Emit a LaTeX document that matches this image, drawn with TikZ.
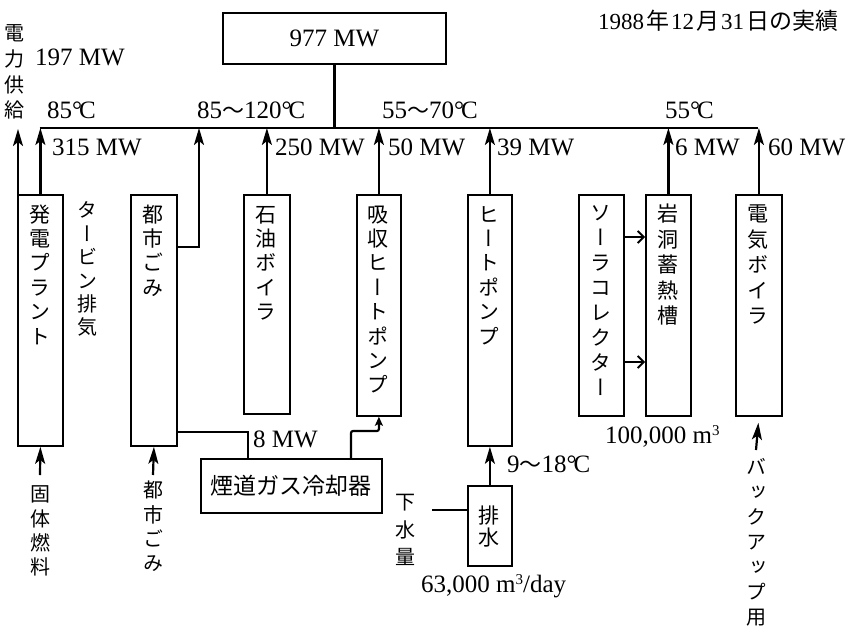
\documentclass[tikz,border=0pt]{standalone}
\usepackage{fontspec}
\setmainfont{Liberation Serif}
\newfontfamily\cjk{Noto Sans CJK JP}
\newfontfamily\cjkv[RawFeature=+vert]{Noto Sans CJK JP}
\usetikzlibrary{arrows.meta}
\newcommand\vch[1]{\hbox to 1em{\hss\vrule height 0.88em depth 0.12em width 0pt\relax #1\hss}}
\ExplSyntaxOn
\NewDocumentCommand\vstack{mm}{
  \vbox{
    \baselineskip=#1pt\relax
    \lineskiplimit=-1000pt\relax
    \lineskip=0pt\relax
    \tl_map_inline:nn {#2} { \vch{##1} }
  }
}
\ExplSyntaxOff
\newcommand\dC{°\kern-3pt C}
\newcommand\wv{{\cjk\fontsize{22}{22}\selectfont 〜}}
\begin{document}
\begin{tikzpicture}[x=1pt,y=-1pt,
  box/.style={draw, line width=1.8pt, inner sep=0, anchor=north west},
  vin/.style={inner sep=0, anchor=north, font=\cjkv\fontsize{21}{21}\selectfont},
  vout/.style={inner sep=0, anchor=north, font=\cjkv\fontsize{20}{20}\selectfont},
  lbl/.style={inner sep=0, anchor=base west, font=\fontsize{25}{25}\selectfont},
  busline/.style={line width=2.6pt},
  conn/.style={line width=2.2pt},
  arr/.style={line width=2.2pt, -{Stealth[length=17pt,width=10pt,inset=4pt]}},
  sarr/.style={line width=2.2pt, rounded corners=2pt, -{Stealth[length=9pt,width=8pt,inset=2pt]}},
  oarr/.style={line width=1.8pt, -{Straight Barb[length=6pt,width=12pt,line width=1.8pt]}}
]
\useasboundingbox (0,0) rectangle (850,626);

% boxes
\node[box, minimum width=223, minimum height=51, font=\fontsize{25}{25}\selectfont] (total) at (222,12) {977 MW};
\node[box, minimum width=45, minimum height=251] (plant) at (17,194) {};
\node[box, minimum width=46, minimum height=251] (muni) at (130,194) {};
\node[box, minimum width=46, minimum height=219] (oil) at (243,194) {};
\node[box, minimum width=44, minimum height=221] (absorb) at (356,194) {};
\node[box, minimum width=44, minimum height=251] (hp) at (467,194) {};
\node[box, minimum width=45, minimum height=221] (solar) at (578,194) {};
\node[box, minimum width=45, minimum height=221] (rock) at (645,194) {};
\node[box, minimum width=46, minimum height=221] (eb) at (735,194) {};
\node[box, minimum width=181, minimum height=54, font=\cjk\fontsize{23}{23}\selectfont] (cool) at (200,458) {煙道ガス冷却器};
\node[box, minimum width=44, minimum height=80] (drain) at (467,485) {};

% texts in boxes
\node[vin] (tplant) at (39.5,203.5) {\vstack{24.4}{発電プラント}};
\node[vin] (tmuni) at (153,203.5) {\vstack{24.4}{都市ごみ}};
\node[vin] (toil) at (266,203.5) {\vstack{24.4}{石油ボイラ}};
\node[vin] (tabs) at (378,203.5) {\vstack{24.4}{吸収ヒートポンプ}};
\node[vin] (thp) at (489,203.5) {\vstack{24.4}{ヒートポンプ}};
\node[vin] (tsolar) at (600.5,202) {\vstack{25}{ソーラコレクター}};
\node[vin] (trock) at (667.5,203) {\vstack{25.5}{岩洞蓄熱槽}};
\node[vin] (teb) at (758,203) {\vstack{25.5}{電気ボイラ}};
\node[vin] (tdrain) at (489,504.5) {\vstack{22}{排水}};

% vertical labels outside
\node[vout] (lpower) at (15,23) {\vstack{25.7}{電力供給}};
\node[vout] (lturb) at (87,200) {\vstack{23.4}{タービン排気}};
\node[vout] (lfuel) at (40,484) {\vstack{24.3}{固体燃料}};
\node[vout] (lwaste) at (153,480) {\vstack{24.3}{都市ごみ}};
\node[vout] (lsewer) at (405,492) {\vstack{27.5}{下水量}};
\node[vout] (lbackup) at (756,457) {\vstack{25}{バックアップ用}};

% horizontal labels
\node[inner sep=0, anchor=base west, font=\fontsize{23}{23}\selectfont] (date) at (598,30)
  {1988\kern2pt{\cjk 年}\kern2pt 12\kern2pt{\cjk 月}\kern2pt 31\kern2pt{\cjk 日の実績}};
\node[lbl] (p197) at (35,65) {197 MW};
\node[lbl] (t85) at (47,118) {85\dC};
\node[lbl] (t85b) at (197,118) {85\wv 120\dC};
\node[lbl] (t55b) at (382,118) {55\wv 70\dC};
\node[lbl] (t55) at (665,118) {55\dC};
\node[lbl] (p315) at (52,155) {315 MW};
\node[lbl] (p250) at (275,155) {250 MW};
\node[lbl] (p50) at (388,155) {50 MW};
\node[lbl] (p39) at (497,155) {39 MW};
\node[lbl] (p6) at (675,155) {6 MW};
\node[lbl] (p60) at (768,155) {60 MW};
\node[lbl] (p8) at (253,447) {8 MW};
\node[lbl] (t918) at (507,472) {9\wv 18\dC};
\node[lbl] (vol) at (605,443) {100,000 m{\fontsize{15}{15}\selectfont\raisebox{8pt}{3}}};
\node[lbl] (flow) at (421,592) {63,000 m{\fontsize{15}{15}\selectfont\raisebox{8pt}{3}}/day};

% bus
\coordinate (busL) at (39.5,128);
\coordinate (busR) at (758,128);
\draw[busline] (busL) -- (busR);
\draw[busline] (total.south) -- (total.south |- busL);

% arrows into the bus
\coordinate (pwr) at (18,129);
\draw[arr] (pwr |- plant.north) -- (pwr);
\draw[arr] (plant.north) -- (plant.north |- busL);
\coordinate (mj) at (199,247);
\draw[arr] (muni.east |- mj) -- (mj) -- (mj |- busL);
\draw[arr] (oil.north) -- (oil.north |- busL);
\draw[arr] (absorb.north) -- (absorb.north |- busL);
\draw[arr] (hp.north) -- (hp.north |- busL);
\draw[arr] (rock.north) -- (rock.north |- busL);
\draw[arr] (eb.north) -- (eb.north |- busL);

% solar collector to rock storage
\coordinate (s1) at (0,237);
\coordinate (s2) at (0,362);
\draw[oarr] (solar.east |- s1) -- (rock.west |- s1);
\draw[oarr] (solar.east |- s2) -- (rock.west |- s2);

% flue gas cooler
\coordinate (cj1) at (248,432);
\draw[conn] (muni.east |- cj1) -- (cj1) -- (cj1 |- cool.north);
\coordinate (cj2) at (351,431);
\draw[sarr] (cj2 |- cool.north) -- (cj2) -- (cj2 -| absorb.south) -- (absorb.south);

% drain / heat pump
\draw[arr] (drain.north) -- (hp.south);
\coordinate (sew) at (432,510);
\draw[conn] (sew) -- (sew -| drain.west);

% bottom inputs
\draw[arr] ([yshift=9pt]lfuel.north) -- (plant.south);
\draw[arr] ([yshift=5pt]lwaste.north) -- (muni.south);
\draw[arr, shorten >=6pt] ([yshift=7pt]lbackup.north) -- (eb.south);
\end{tikzpicture}
\end{document}
